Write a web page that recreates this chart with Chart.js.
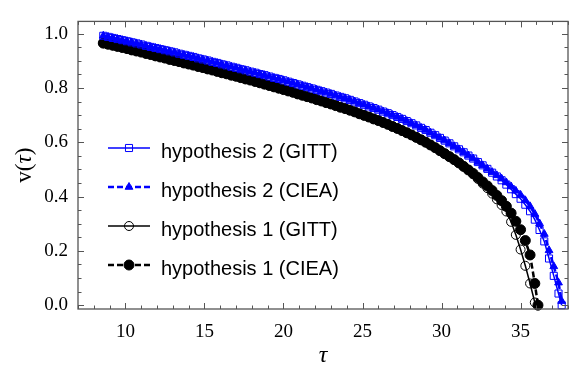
<!DOCTYPE html>
<html>
<head>
<meta charset="utf-8">
<script src="https://cdn.jsdelivr.net/npm/chart.js@4.4.1/dist/chart.umd.min.js"></script>
<style>
  html, body { margin: 0; padding: 0; background: #fff; }
</style>
</head>
<body>
<canvas id="chart" width="574" height="372"></canvas>
<script>
// hypothesis 2 (blue)
const tauHyp2 = [
  8.6, 8.9, 9.2, 9.5, 9.8, 10.1, 10.4, 10.7, 11.0, 11.3,
  11.6, 11.9, 12.2, 12.5, 12.8, 13.1, 13.4, 13.7, 14.0, 14.3,
  14.6, 14.9, 15.2, 15.5, 15.8, 16.1, 16.4, 16.7, 17.0, 17.3,
  17.6, 17.9, 18.2, 18.5, 18.8, 19.1, 19.4, 19.7, 20.0, 20.3,
  20.6, 20.9, 21.2, 21.5, 21.8, 22.1, 22.4, 22.7, 23.0, 23.3,
  23.6, 23.9, 24.2, 24.5, 24.8, 25.1, 25.4, 25.7, 26.0, 26.3,
  26.6, 26.9, 27.2, 27.5, 27.8, 28.1, 28.4, 28.7, 29.0, 29.3,
  29.6, 29.9, 30.2, 30.5, 30.8, 31.1, 31.4, 31.7, 32.0, 32.3,
  32.6, 32.9, 33.2, 33.5, 33.8, 34.1, 34.4, 34.7, 35.0, 35.3,
  35.6, 35.9, 36.2, 36.5, 36.8, 37.1, 37.4, 37.6
];
const gittHyp2 = [
  0.992, 0.988, 0.984, 0.980, 0.976, 0.972, 0.968, 0.964, 0.960, 0.955,
  0.951, 0.947, 0.943, 0.939, 0.935, 0.931, 0.926, 0.922, 0.918, 0.914,
  0.909, 0.905, 0.901, 0.896, 0.892, 0.887, 0.883, 0.878, 0.874, 0.869,
  0.865, 0.860, 0.856, 0.851, 0.847, 0.842, 0.837, 0.833, 0.828, 0.823,
  0.818, 0.813, 0.808, 0.803, 0.798, 0.793, 0.788, 0.783, 0.778, 0.772,
  0.767, 0.762, 0.756, 0.750, 0.744, 0.738, 0.732, 0.726, 0.720, 0.713,
  0.707, 0.700, 0.693, 0.686, 0.678, 0.670, 0.662, 0.653, 0.645, 0.635,
  0.626, 0.616, 0.606, 0.596, 0.585, 0.574, 0.563, 0.551, 0.540, 0.527,
  0.515, 0.502, 0.488, 0.474, 0.460, 0.444, 0.427, 0.409, 0.392, 0.370,
  0.346, 0.315, 0.277, 0.235, 0.172, 0.108, 0.043, 0.000
];
const cieaHyp2 = [
  0.992, 0.988, 0.984, 0.980, 0.976, 0.972, 0.968, 0.964, 0.960, 0.955,
  0.951, 0.947, 0.943, 0.939, 0.935, 0.931, 0.926, 0.922, 0.918, 0.914,
  0.909, 0.905, 0.901, 0.896, 0.892, 0.887, 0.883, 0.878, 0.874, 0.869,
  0.865, 0.860, 0.856, 0.851, 0.847, 0.842, 0.837, 0.833, 0.828, 0.823,
  0.818, 0.813, 0.808, 0.803, 0.798, 0.793, 0.788, 0.783, 0.778, 0.772,
  0.767, 0.762, 0.756, 0.750, 0.744, 0.738, 0.732, 0.726, 0.720, 0.713,
  0.707, 0.700, 0.693, 0.686, 0.678, 0.670, 0.662, 0.653, 0.645, 0.635,
  0.626, 0.616, 0.606, 0.596, 0.585, 0.574, 0.563, 0.551, 0.540, 0.527,
  0.515, 0.502, 0.490, 0.478, 0.466, 0.452, 0.437, 0.421, 0.406, 0.386,
  0.364, 0.336, 0.301, 0.262, 0.202, 0.143, 0.083, 0.015
];

// hypothesis 1 (black)
const tauHyp1 = [
  8.6, 8.9, 9.2, 9.5, 9.8, 10.1, 10.4, 10.7, 11.0, 11.3,
  11.6, 11.9, 12.2, 12.5, 12.8, 13.1, 13.4, 13.7, 14.0, 14.3,
  14.6, 14.9, 15.2, 15.5, 15.8, 16.1, 16.4, 16.7, 17.0, 17.3,
  17.6, 17.9, 18.2, 18.5, 18.8, 19.1, 19.4, 19.7, 20.0, 20.3,
  20.6, 20.9, 21.2, 21.5, 21.8, 22.1, 22.4, 22.7, 23.0, 23.3,
  23.6, 23.9, 24.2, 24.5, 24.8, 25.1, 25.4, 25.7, 26.0, 26.3,
  26.6, 26.9, 27.2, 27.5, 27.8, 28.1, 28.4, 28.7, 29.0, 29.3,
  29.6, 29.9, 30.2, 30.5, 30.8, 31.1, 31.4, 31.7, 32.0, 32.3,
  32.6, 32.9, 33.2, 33.5, 33.8, 34.1, 34.4, 34.7, 35.0, 35.3,
  35.6, 35.9, 36.1
];
const gittHyp1 = [
  0.965, 0.961, 0.957, 0.953, 0.949, 0.945, 0.940, 0.936, 0.932, 0.927,
  0.923, 0.918, 0.914, 0.910, 0.905, 0.901, 0.897, 0.892, 0.888, 0.884,
  0.879, 0.875, 0.870, 0.866, 0.861, 0.856, 0.852, 0.847, 0.843, 0.838,
  0.833, 0.829, 0.824, 0.819, 0.814, 0.809, 0.804, 0.799, 0.794, 0.789,
  0.784, 0.778, 0.773, 0.768, 0.763, 0.757, 0.752, 0.746, 0.741, 0.735,
  0.729, 0.724, 0.718, 0.712, 0.705, 0.699, 0.693, 0.686, 0.680, 0.673,
  0.666, 0.658, 0.651, 0.643, 0.635, 0.627, 0.618, 0.609, 0.600, 0.590,
  0.580, 0.569, 0.558, 0.547, 0.536, 0.524, 0.511, 0.498, 0.482, 0.465,
  0.448, 0.431, 0.411, 0.390, 0.369, 0.345, 0.307, 0.259, 0.205, 0.145,
  0.080, 0.010
];
const cieaHyp1 = [
  0.965, 0.961, 0.957, 0.953, 0.949, 0.945, 0.940, 0.936, 0.932, 0.927,
  0.923, 0.918, 0.914, 0.910, 0.905, 0.901, 0.897, 0.892, 0.888, 0.884,
  0.879, 0.875, 0.870, 0.866, 0.861, 0.856, 0.852, 0.847, 0.843, 0.838,
  0.833, 0.829, 0.824, 0.819, 0.814, 0.809, 0.804, 0.799, 0.794, 0.789,
  0.784, 0.778, 0.773, 0.768, 0.763, 0.757, 0.752, 0.746, 0.741, 0.735,
  0.729, 0.724, 0.718, 0.712, 0.705, 0.699, 0.693, 0.686, 0.680, 0.673,
  0.666, 0.658, 0.651, 0.643, 0.635, 0.627, 0.618, 0.609, 0.600, 0.590,
  0.580, 0.569, 0.558, 0.547, 0.536, 0.524, 0.511, 0.498, 0.485, 0.470,
  0.454, 0.439, 0.422, 0.404, 0.385, 0.364, 0.339, 0.309, 0.278, 0.238,
  0.185, 0.080, 0.000
];

const seriesNames = [
  "hypothesis 2 (GITT)",
  "hypothesis 2 (CIEA)",
  "hypothesis 1 (GITT)",
  "hypothesis 1 (CIEA)"
];
const xTicks = [10, 15, 20, 25, 30, 35];
const yTicks = [0.0, 0.2, 0.4, 0.6, 0.8, 1.0];

const BLUE = "#0000ff";
const BLACK = "#000000";
const FRAME = "#555555";
const SERIF = '"Liberation Serif", "Times New Roman", serif';

function pairs(taus, vals) {
  return vals.map((v, i) => ({ x: taus[i], y: v }));
}

// little marker helper for the legend
function marker(ctx, ds, x, y) {
  const r = ds.pointRadius;
  ctx.save();
  ctx.lineWidth = ds.pointBorderWidth;
  ctx.strokeStyle = ds.pointBorderColor;
  ctx.fillStyle = ds.pointBackgroundColor;
  ctx.beginPath();
  if (ds.pointStyle === "rect") {
    const s = r * Math.SQRT1_2;
    ctx.rect(x - s, y - s, 2 * s, 2 * s);
  } else if (ds.pointStyle === "triangle") {
    ctx.moveTo(x, y - r);
    ctx.lineTo(x + r * 0.866, y + r * 0.5);
    ctx.lineTo(x - r * 0.866, y + r * 0.5);
    ctx.closePath();
  } else {
    ctx.arc(x, y, r, 0, Math.PI * 2);
  }
  ctx.fill();
  ctx.stroke();
  ctx.restore();
}

const framePlugin = {
  id: "framePlugin",
  afterDatasetsDraw(chart) {
    const { ctx, chartArea: a, scales } = chart;
    const xs = scales.x, ys = scales.y;
    ctx.save();
    ctx.strokeStyle = FRAME;
    ctx.lineWidth = 1.3;
    ctx.strokeRect(a.left, a.top, a.right - a.left, a.bottom - a.top);

    // inward ticks on all four sides
    ctx.lineWidth = 1;
    ctx.beginPath();
    for (let t = 7; t <= 38; t++) {
      const px = Math.round(xs.getPixelForValue(t)) + 0.5;
      const len = t % 5 === 0 ? 6 : 3.5;
      ctx.moveTo(px, a.bottom); ctx.lineTo(px, a.bottom - len);
      ctx.moveTo(px, a.top); ctx.lineTo(px, a.top + len);
    }
    for (let k = 0; k <= 20; k++) {
      const py = Math.round(ys.getPixelForValue(k * 0.05)) + 0.5;
      const len = k % 4 === 0 ? 6 : 3.5;
      ctx.moveTo(a.left, py); ctx.lineTo(a.left + len, py);
      ctx.moveTo(a.right, py); ctx.lineTo(a.right - len, py);
    }
    ctx.stroke();

    // y title: v(τ) with italic tau
    ctx.fillStyle = "#000";
    ctx.translate(25, (a.top + a.bottom) / 2);
    ctx.rotate(-Math.PI / 2);
    ctx.textBaseline = "middle";
    const parts = [["v(", "23px " + SERIF], ["\u03c4", "italic 23px " + SERIF], [")", "23px " + SERIF]];
    let total = 0;
    parts.forEach(p => { ctx.font = p[1]; total += ctx.measureText(p[0]).width; });
    let cx = -total / 2;
    parts.forEach(p => {
      ctx.font = p[1];
      ctx.fillText(p[0], cx, 0);
      cx += ctx.measureText(p[0]).width;
    });
    ctx.restore();

    // legend inside the plot
    ctx.save();
    chart.data.datasets.forEach((ds, i) => {
      const ly = 148 + i * 39;
      ctx.strokeStyle = ds.borderColor;
      ctx.lineWidth = ds.borderWidth;
      ctx.setLineDash(ds.borderDash || []);
      ctx.beginPath();
      ctx.moveTo(108, ly);
      ctx.lineTo(150, ly);
      ctx.stroke();
      ctx.setLineDash([]);
      marker(ctx, ds, 129, ly);
      ctx.fillStyle = "#000";
      ctx.font = '20px "Liberation Sans", Arial, sans-serif';
      ctx.textBaseline = "alphabetic";
      ctx.fillText(seriesNames[i], 161, ly + 10);
    });
    ctx.restore();
  }
};

new Chart(document.getElementById("chart"), {
  type: "scatter",
  data: {
    datasets: [
      {
        label: seriesNames[0],
        data: pairs(tauHyp2, gittHyp2),
        showLine: true,
        borderColor: BLUE,
        borderWidth: 1.5,
        pointStyle: "rect",
        pointRadius: 5,
        pointBorderWidth: 1,
        pointBorderColor: BLUE,
        pointBackgroundColor: "rgba(0,0,255,0)",
        clip: false
      },
      {
        label: seriesNames[1],
        data: pairs(tauHyp2, cieaHyp2),
        showLine: true,
        borderColor: BLUE,
        borderWidth: 2.5,
        borderDash: [6, 3],
        pointStyle: "triangle",
        pointRadius: 4.5,
        pointBorderWidth: 1,
        pointBorderColor: BLUE,
        pointBackgroundColor: BLUE,
        clip: false
      },
      {
        label: seriesNames[2],
        data: pairs(tauHyp1, gittHyp1),
        showLine: true,
        borderColor: BLACK,
        borderWidth: 1.5,
        pointStyle: "circle",
        pointRadius: 4.5,
        pointBorderWidth: 1,
        pointBorderColor: BLACK,
        pointBackgroundColor: "rgba(255,255,255,0)",
        clip: false
      },
      {
        label: seriesNames[3],
        data: pairs(tauHyp1, cieaHyp1),
        showLine: true,
        borderColor: BLACK,
        borderWidth: 2.5,
        borderDash: [6, 3],
        pointStyle: "circle",
        pointRadius: 5,
        pointBorderWidth: 1,
        pointBorderColor: BLACK,
        pointBackgroundColor: BLACK,
        clip: false
      }
    ]
  },
  options: {
    responsive: false,
    animation: false,
    devicePixelRatio: 1,
    events: [],
    layout: { padding: { left: 0, right: 6, top: 5, bottom: 0 } },
    plugins: {
      legend: { display: false },
      tooltip: { enabled: false }
    },
    scales: {
      x: {
        type: "linear",
        min: 7,
        max: 38,
        afterBuildTicks: s => { s.ticks = xTicks.map(v => ({ value: v })); },
        afterFit: s => { s.height = 63; },
        grid: { display: false, drawTicks: false },
        border: { display: false },
        ticks: {
          padding: 12,
          color: "#000",
          font: { family: SERIF, size: 19 },
          callback: v => String(v)
        },
        title: {
          display: true,
          text: "\u03c4",
          color: "#000",
          font: { family: SERIF, size: 24, style: "italic" },
          padding: { top: 0, bottom: 2 }
        }
      },
      y: {
        type: "linear",
        min: -0.014,
        max: 1.045,
        afterBuildTicks: s => { s.ticks = yTicks.map(v => ({ value: v })); },
        afterFit: s => { s.width = 78; },
        grid: { display: false, drawTicks: false },
        border: { display: false },
        ticks: {
          padding: 10,
          color: "#000",
          font: { family: SERIF, size: 19 },
          callback: v => v.toFixed(1)
        }
      }
    }
  },
  plugins: [framePlugin]
});
</script>
</body>
</html>
